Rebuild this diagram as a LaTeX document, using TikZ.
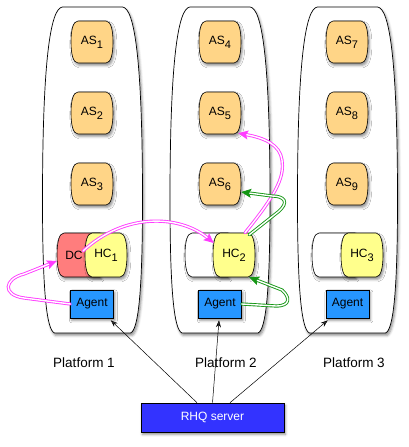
\documentclass[tikz,border=0pt]{standalone}
\usepackage{fontspec}
\setmainfont{Liberation Sans}
\usetikzlibrary{arrows.meta,shadows.blur,calc}
\definecolor{asc}{RGB}{255,213,135}
\definecolor{hcy}{RGB}{255,255,140}
\definecolor{dcred}{RGB}{255,125,125}
\definecolor{agentblue}{RGB}{38,150,255}
\definecolor{rhqblue}{RGB}{51,51,255}
\definecolor{pinkc}{RGB}{255,60,255}
\definecolor{greenc}{RGB}{20,150,20}
\newcommand\subs[1]{\raisebox{-0.6ex}{\fontsize{11}{12}\selectfont #1}}
\newcommand\platformpath[1]{%
  \path[draw, fill=white, line width=0.7pt, shad]
  ({#1-30},7) -- ({#1+30},7) .. controls ({#1+42},8) and ({#1+50},60) .. ({#1+50},200)
  .. controls ({#1+50},290) and ({#1+46},330) .. ({#1+38},333) -- ({#1-38},333)
  .. controls ({#1-46},330) and ({#1-50},290) .. ({#1-50},200)
  .. controls ({#1-50},60) and ({#1-42},8) .. cycle;}
% barrel outline: centre x, centre y, half width, half height, fill
\newcommand\barrel[5]{%
  \path[draw, line width=0.6pt, fill=#5, shad]
  ({#1-#3+7},{#2-#4}) -- ({#1+#3-7},{#2-#4})
  .. controls ({#1+#3-2},{#2-#4}) and ({#1+#3},{#2-#4*0.55}) .. ({#1+#3},#2)
  .. controls ({#1+#3},{#2+#4*0.55}) and ({#1+#3-2},{#2+#4}) .. ({#1+#3-7},{#2+#4})
  -- ({#1-#3+7},{#2+#4})
  .. controls ({#1-#3+2},{#2+#4}) and ({#1-#3},{#2+#4*0.55}) .. ({#1-#3},#2)
  .. controls ({#1-#3},{#2-#4*0.55}) and ({#1-#3+2},{#2-#4}) .. cycle;}
% back cylinder: left x, right x, centre y, half height, fill
\newcommand\backbarrel[5]{%
  \path[draw, line width=0.6pt, fill=#5, shad]
  (#2,{#3-#4}) -- ({#1+7},{#3-#4})
  .. controls ({#1+2},{#3-#4}) and (#1,{#3-#4*0.55}) .. (#1,#3)
  .. controls (#1,{#3+#4*0.55}) and ({#1+2},{#3+#4}) .. ({#1+7},{#3+#4})
  -- (#2,{#3+#4}) -- cycle;}
\begin{document}
\begin{tikzpicture}[x=1pt,y=-1pt,
  every node/.style={font=\fontsize{12}{14}\selectfont, inner sep=0pt},
  shad/.style={blur shadow={shadow xshift=1.4pt, shadow yshift=-2.4pt, shadow blur radius=2.5pt, shadow opacity=45}},
  asbox/.style={minimum width=42pt, minimum height=42pt},
  hcbox/.style={minimum width=42pt, minimum height=44pt},
  dcbox/.style={minimum width=34pt, minimum height=44pt},
  agentbox/.style={draw, line width=0.6pt, fill=agentblue, minimum width=43pt, minimum height=28pt, shad},
  rhqbox/.style={draw, line width=0.6pt, fill=rhqblue, text=white, minimum width=143pt, minimum height=29pt, shad},
  plabel/.style={font=\fontsize{13.5}{16}\selectfont},
  blk/.style={-{Stealth[length=7pt,width=5pt]}, line width=0.5pt},
  dbl/.style={double=white, double distance=1.4pt, line width=0.9pt, line cap=round},
  pinkarrow/.style={dbl, draw=pinkc, -{Stealth[length=10pt,width=9pt,inset=2pt]}},
  greenarrow/.style={dbl, draw=greenc, -{Stealth[length=10pt,width=9pt,inset=2pt]}}
]
\useasboundingbox (0,0) rectangle (408,447);

\platformpath{92.5}
\platformpath{220}
\platformpath{347.5}

% application servers
\barrel{92}{42}{21}{21}{asc}   \node[asbox] (as1) at (92,42) {AS\subs{1}};
\barrel{92}{113}{21}{21}{asc}  \node[asbox] (as2) at (92,113) {AS\subs{2}};
\barrel{92}{184}{21}{21}{asc}  \node[asbox] (as3) at (92,184) {AS\subs{3}};
\barrel{220}{42}{21}{21}{asc}  \node[asbox] (as4) at (220,42) {AS\subs{4}};
\barrel{220}{113}{21}{21}{asc} \node[asbox] (as5) at (220,113) {AS\subs{5}};
\barrel{220}{184}{21}{21}{asc} \node[asbox] (as6) at (220,184) {AS\subs{6}};
\barrel{347}{42}{21}{21}{asc}  \node[asbox] (as7) at (347,42) {AS\subs{7}};
\barrel{347}{113}{21}{21}{asc} \node[asbox] (as8) at (347,113) {AS\subs{8}};
\barrel{347}{184}{21}{21}{asc} \node[asbox] (as9) at (347,184) {AS\subs{9}};

% domain controller and back cylinders
\backbarrel{57}{100}{255}{22}{dcred}  \node[dcbox] (dc) at (74,255) {DC};
\backbarrel{185}{228}{255}{22}{white} \node[dcbox] (bk2) at (202,255) {};
\backbarrel{312}{355}{255}{22}{white} \node[dcbox] (bk3) at (329,255) {};

% host controllers
\barrel{106}{255}{21}{22}{hcy} \node[hcbox] (hc1) at (106,255) {HC\subs{1}};
\barrel{234}{255}{21}{22}{hcy} \node[hcbox] (hc2) at (234,255) {HC\subs{2}};
\barrel{362}{255}{21}{22}{hcy} \node[hcbox] (hc3) at (362,255) {HC\subs{3}};

% agents
\node[agentbox] (ag1) at (92,304) {Agent};
\node[agentbox] (ag2) at (220,304) {Agent};
\node[agentbox] (ag3) at (347.5,304) {Agent};

% platform labels
\node[plabel] (pl1) at (84,363) {Platform 1};
\node[plabel] (pl2) at (226,363) {Platform 2};
\node[plabel] (pl3) at (354,363) {Platform 3};

% server
\node[rhqbox] (rhq) at (212.5,417.5) {RHQ server};

% server to agents
\draw[blk] ($(rhq.north)+(-15.5,0)$) -- ($(ag1.south east)+(-3,2)$);
\draw[blk] (rhq.north) -- ($(ag2.south)+(-1,2)$);
\draw[blk] ($(rhq.north)+(17.5,0)$) -- ($(ag3.south west)+(2,2)$);

% pink flow
\draw[pinkarrow] (ag1.west) -- (24,298) .. controls (2,295) and (4,279) .. (24,274) -- ($(dc.west)+(0,6)$);
\draw[pinkarrow] ($(dc.center)+(9,-4)$) .. controls (125,212) and (180,215) .. ($(hc2.west)+(1,-12)$);
\draw[pinkarrow] ($(hc2.north)+(11,0)$) .. controls (280,190) and (284,175) .. (282,160) .. controls (280,145) and (265,138) .. ($(as5.south east)+(-3,-1)$);

% green flow
\draw[greenarrow] (ag2.east) -- (276,306) .. controls (291,306) and (290,297) .. (282,290) -- ($(hc2.south east)+(-6,0)$);
\draw[greenarrow] ($(hc2.north east)+(-6,2)$) -- (278,212) .. controls (290,202) and (284,196) .. (272,196) -- ($(as6.east)+(0,8)$);
\end{tikzpicture}
\end{document}
